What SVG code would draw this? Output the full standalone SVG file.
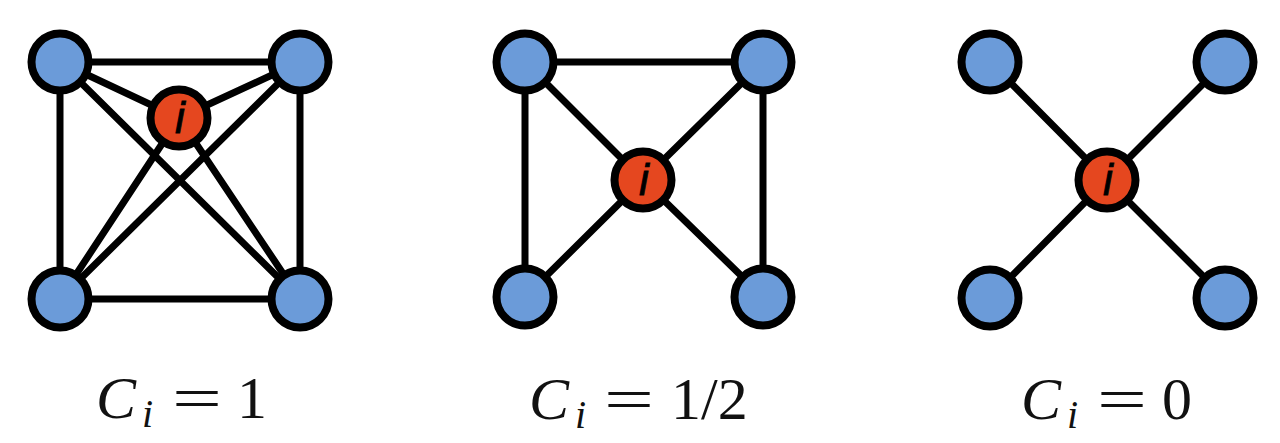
<svg xmlns="http://www.w3.org/2000/svg" width="1280" height="443" viewBox="0 0 1280 443">
<style>
.e{stroke:#000;stroke-width:7;stroke-linecap:round;fill:none}
.n{fill:#6B9BD9;stroke:#000;stroke-width:8}
.c{fill:#E5471F;stroke:#000;stroke-width:8}
.t{font-family:"Liberation Sans",Arial,sans-serif;font-style:italic;font-size:44px;fill:#000;text-anchor:middle;stroke:#000;stroke-width:0.8}
.m{font-family:"Liberation Serif","Times New Roman",serif;font-size:60px;fill:#111}
.mi{font-style:italic}
.s{font-family:"Liberation Serif","Times New Roman",serif;font-style:italic;font-size:40px;fill:#111}
</style>
<rect width="1280" height="443" fill="#fff"/>
<g id="connectors">
<line class="e" x1="60" y1="62" x2="300" y2="62"/>
<line class="e" x1="60" y1="299" x2="300" y2="299"/>
<line class="e" x1="60" y1="62" x2="60" y2="299"/>
<line class="e" x1="300" y1="62" x2="300" y2="299"/>
<line class="e" x1="60" y1="62" x2="300" y2="299"/>
<line class="e" x1="300" y1="62" x2="60" y2="299"/>
<line class="e" x1="179" y1="118" x2="60" y2="62"/>
<line class="e" x1="179" y1="118" x2="300" y2="62"/>
<line class="e" x1="179" y1="118" x2="60" y2="299"/>
<line class="e" x1="179" y1="118" x2="300" y2="299"/>
<line class="e" x1="525" y1="62" x2="763" y2="62"/>
<line class="e" x1="525" y1="62" x2="525" y2="297"/>
<line class="e" x1="763" y1="62" x2="763" y2="297"/>
<line class="e" x1="643" y1="180" x2="525" y2="62"/>
<line class="e" x1="643" y1="180" x2="763" y2="62"/>
<line class="e" x1="643" y1="180" x2="525" y2="297"/>
<line class="e" x1="643" y1="180" x2="763" y2="297"/>
<line class="e" x1="1107" y1="180" x2="990" y2="62"/>
<line class="e" x1="1107" y1="180" x2="1225" y2="62"/>
<line class="e" x1="1107" y1="180" x2="990" y2="298"/>
<line class="e" x1="1107" y1="180" x2="1225" y2="298"/>
</g>
<g id="g1-tl"><circle class="n" cx="60" cy="62" r="28.5"/></g>
<g id="g1-tr"><circle class="n" cx="300" cy="62" r="28.5"/></g>
<g id="g1-bl"><circle class="n" cx="60" cy="299" r="28.5"/></g>
<g id="g1-br"><circle class="n" cx="300" cy="299" r="28.5"/></g>
<g id="g1-i"><circle class="c" cx="179" cy="118" r="28.5"/><text class="t" x="180" y="133">i</text></g>
<g id="g2-tl"><circle class="n" cx="525" cy="62" r="28.5"/></g>
<g id="g2-tr"><circle class="n" cx="763" cy="62" r="28.5"/></g>
<g id="g2-bl"><circle class="n" cx="525" cy="297" r="28.5"/></g>
<g id="g2-br"><circle class="n" cx="763" cy="297" r="28.5"/></g>
<g id="g2-i"><circle class="c" cx="643" cy="180" r="28.5"/><text class="t" x="644" y="195">i</text></g>
<g id="g3-tl"><circle class="n" cx="990" cy="62" r="28.5"/></g>
<g id="g3-tr"><circle class="n" cx="1225" cy="62" r="28.5"/></g>
<g id="g3-bl"><circle class="n" cx="990" cy="298" r="28.5"/></g>
<g id="g3-br"><circle class="n" cx="1225" cy="298" r="28.5"/></g>
<g id="g3-i"><circle class="c" cx="1107" cy="180" r="28.5"/><text class="t" x="1108" y="195">i</text></g>
<g id="label1">
<text class="m mi" x="96" y="418">C</text>
<text class="s" x="142" y="427">i</text>
<text class="m" x="172" y="418" textLength="50" lengthAdjust="spacingAndGlyphs">=</text>
<text class="m" x="237" y="418">1</text>
</g>
<g id="label2">
<text class="m mi" x="529" y="419">C</text>
<text class="s" x="575" y="428">i</text>
<text class="m" x="604" y="419" textLength="50" lengthAdjust="spacingAndGlyphs">=</text>
<text class="m" x="671" y="419">1/2</text>
</g>
<g id="label3">
<text class="m mi" x="1021" y="419">C</text>
<text class="s" x="1067" y="428">i</text>
<text class="m" x="1097" y="419" textLength="50" lengthAdjust="spacingAndGlyphs">=</text>
<text class="m" x="1162" y="419">0</text>
</g>
</svg>
